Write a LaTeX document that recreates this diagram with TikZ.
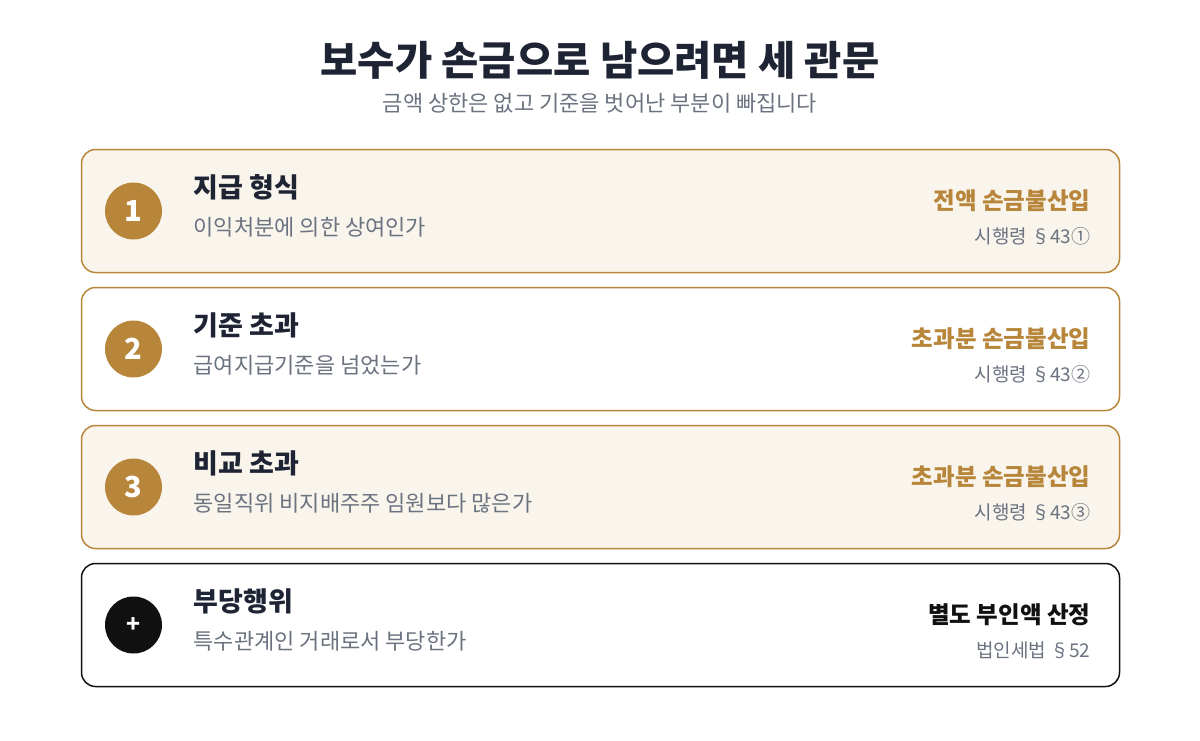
\documentclass[tikz,border=0pt]{standalone}
\usepackage{fontspec}
\setmainfont{Noto Sans CJK KR}
\usepackage{xcolor}
\usetikzlibrary{positioning}
\definecolor{gold}{HTML}{B8863B}
\definecolor{cream}{HTML}{F9F5EC}
\definecolor{ink}{HTML}{1E2433}
\definecolor{slate}{HTML}{6B7280}
\definecolor{coal}{HTML}{111111}
\tikzset{
    gate/.style={rectangle, rounded corners=14pt, draw=gold, fill=cream, line width=1.5pt, minimum width=1038pt, minimum height=123pt, outer sep=0pt},
    wgate/.style={gate, fill=white},
    xgate/.style={gate, draw=coal, fill=white},
    badge/.style={circle, fill=gold, text=white, minimum size=57pt, inner sep=0pt, font=\fontsize{29}{29}\selectfont\bfseries},
    xbadge/.style={badge, fill=coal, font=\fontsize{23}{23}\selectfont\bfseries},
    gtitle/.style={anchor=west, inner sep=0pt, text=ink, font=\fontsize{27}{27}\selectfont\bfseries},
    gquery/.style={anchor=west, inner sep=0pt, text=slate, font=\fontsize{22}{22}\selectfont},
    verdict/.style={anchor=east, inner sep=0pt, text=gold, font=\fontsize{23.5}{23.5}\selectfont\bfseries},
    xverdict/.style={verdict, text=coal},
    cite/.style={anchor=east, inner sep=0pt, text=slate, font=\fontsize{19}{19}\selectfont},
}

\begin{document}
\begin{tikzpicture}[x=1pt, y=1pt]
    \useasboundingbox (0,0) rectangle (1200,-740);
    \node [text=ink, font=\fontsize{40.5}{40.5}\selectfont\bfseries] (title) at (600,-60) {보수가 손금으로 남으려면 세 관문};
    \node [text=slate, font=\fontsize{22}{22}\selectfont] (sub) at (600,-103) {금액 상한은 없고 기준을 벗어난 부분이 빠집니다};

    \node [gate] (g1) at (600.5,-211) {};
    \node [wgate] (g2) [below=15pt of g1] {};
    \node [gate] (g3) [below=15pt of g2] {};
    \node [xgate] (g4) [below=15pt of g3] {};

    \node [badge] (b1) at ([xshift=52pt]g1.west) {1};
    \node [gtitle] (t1) at ([xshift=112pt, yshift=23.5pt]g1.west) {지급 형식};
    \node [gquery] (q1) at ([xshift=112pt, yshift=-16.5pt]g1.west) {이익처분에 의한 상여인가};
    \node [verdict] (v1) at ([xshift=-29pt, yshift=10pt]g1.east) {전액 손금불산입};
    \node [cite] (c1) at ([xshift=-29pt, yshift=-25pt]g1.east) {시행령 §43①};

    \node [badge] (b2) at ([xshift=52pt]g2.west) {2};
    \node [gtitle] (t2) at ([xshift=112pt, yshift=23.5pt]g2.west) {기준 초과};
    \node [gquery] (q2) at ([xshift=112pt, yshift=-16.5pt]g2.west) {급여지급기준을 넘었는가};
    \node [verdict] (v2) at ([xshift=-29pt, yshift=10pt]g2.east) {초과분 손금불산입};
    \node [cite] (c2) at ([xshift=-29pt, yshift=-25pt]g2.east) {시행령 §43②};

    \node [badge] (b3) at ([xshift=52pt]g3.west) {3};
    \node [gtitle] (t3) at ([xshift=112pt, yshift=23.5pt]g3.west) {비교 초과};
    \node [gquery] (q3) at ([xshift=112pt, yshift=-16.5pt]g3.west) {동일직위 비지배주주 임원보다 많은가};
    \node [verdict] (v3) at ([xshift=-29pt, yshift=10pt]g3.east) {초과분 손금불산입};
    \node [cite] (c3) at ([xshift=-29pt, yshift=-25pt]g3.east) {시행령 §43③};

    \node [xbadge] (b4) at ([xshift=52pt]g4.west) {+};
    \node [gtitle] (t4) at ([xshift=112pt, yshift=23.5pt]g4.west) {부당행위};
    \node [gquery] (q4) at ([xshift=112pt, yshift=-16.5pt]g4.west) {특수관계인 거래로서 부당한가};
    \node [xverdict] (v4) at ([xshift=-29pt, yshift=10pt]g4.east) {별도 부인액 산정};
    \node [cite] (c4) at ([xshift=-29pt, yshift=-25pt]g4.east) {법인세법 §52};
\end{tikzpicture}
\end{document}
